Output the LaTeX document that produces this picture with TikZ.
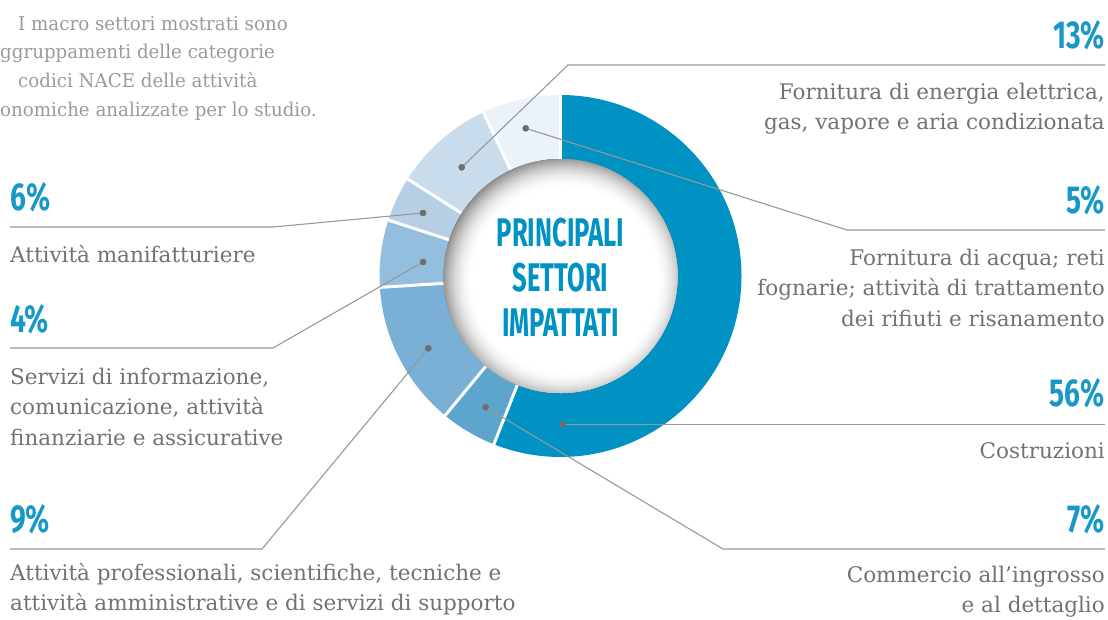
\documentclass[tikz,border=0pt]{standalone}
\usepackage{fontspec}
\newfontfamily\pctfont{Fira Sans}[FakeStretch=0.72]
\newfontfamily\ttlfont{Fira Sans}[FakeStretch=0.64]
\newfontfamily\descfont{DejaVu Serif}
\newfontfamily\notefont{DejaVu Serif}[FakeStretch=0.96]
\definecolor{mainblue}{HTML}{0092C2}
\definecolor{pctblue}{HTML}{1798C8}
\definecolor{sfive}{HTML}{5CA6CE}
\definecolor{sthirteen}{HTML}{7AB0D5}
\definecolor{ssix}{HTML}{94BEDD}
\definecolor{sfour}{HTML}{B6CFE5}
\definecolor{snine}{HTML}{C9DCEC}
\definecolor{sseven}{HTML}{EBF2F9}
\definecolor{txtgray}{HTML}{727272}
\definecolor{notegray}{HTML}{9A9A9A}
\definecolor{linegray}{HTML}{989898}
\definecolor{dotgray}{HTML}{6E6E6E}
\begin{document}
\begin{tikzpicture}[x=1pt,y=-1pt,
  dot/.style={circle,fill=dotgray,inner sep=0pt,minimum size=6.4pt},
  leader/.style={draw=linegray,line width=1.1pt},
  pct/.style={font={\pctfont\bfseries\fontsize{39}{39}\selectfont},text=pctblue,inner sep=0pt},
  desc/.style={font={\descfont\fontsize{21.5}{30.5}\selectfont},text=txtgray,inner sep=0pt},
  note/.style={font={\notefont\fontsize{19}{29}\selectfont},text=notegray,inner sep=0pt,anchor=base west},
  sep/.style={white,line width=3pt}
]
\useasboundingbox (0,0) rectangle (1108,619);
\clip (0,0) rectangle (1108,619);
\coordinate (C) at (560.5,276);
\coordinate (S) at (565,280);
% donut segments (angles: visual clockwise, 0 = right)
\fill[mainblue]  (C) -- ++(-90:181)  arc[start angle=-90,  end angle=111.6, radius=181] -- cycle;
\fill[sfive]     (C) -- ++(111.6:181) arc[start angle=111.6, end angle=129.6, radius=181] -- cycle;
\fill[sthirteen] (C) -- ++(129.6:181) arc[start angle=129.6, end angle=176.4, radius=181] -- cycle;
\fill[ssix]      (C) -- ++(176.4:181) arc[start angle=176.4, end angle=198,   radius=181] -- cycle;
\fill[sfour]     (C) -- ++(198:181)   arc[start angle=198,   end angle=212.4, radius=181] -- cycle;
\fill[snine]     (C) -- ++(212.4:181) arc[start angle=212.4, end angle=244.8, radius=181] -- cycle;
\fill[sseven]    (C) -- ++(244.8:181) arc[start angle=244.8, end angle=270,   radius=181] -- cycle;
\foreach \a in {-90,111.6,129.6,176.4,198,212.4,244.8}
  \draw[sep] (C) -- ++(\a:184);
% inner white disc with inset shadow
\begin{scope}
  \clip (C) circle[radius=117];
  \fill[black!48] (C) circle[radius=130];
  \foreach \i in {0,...,32}{
    \pgfmathsetmacro\g{48*(1-\i/32)^2}
    \fill[black!\g] (S) circle[radius=124-\i];
  }
\end{scope}
% centre title
\node[font={\ttlfont\bfseries\fontsize{40}{45}\selectfont},text=mainblue,inner sep=0pt,anchor=base] (title) at (560.5,246)
  {\begin{tabular}[t]{@{}c@{}}PRINCIPALI\\SETTORI\\IMPATTATI\end{tabular}};
% note (as visible in the picture)
\node[note] (n1) at (18,30)  {I macro settori mostrati sono};
\node[note] (n2) at (0,58)   {ggruppamenti delle categorie};
\node[note] (n3) at (18,87)  {codici NACE delle attività};
\node[note] (n4) at (0,116)  {onomiche analizzate per lo studio.};
% dots
\node[dot] (d13) at (461.7,167.3) {};
\node[dot] (d5)  at (525.7,128.3) {};
\node[dot] (d56) at (562.7,424.3) {};
\node[dot] (d7)  at (485.7,407.3) {};
\node[dot] (d6)  at (423,213) {};
\node[dot] (d4)  at (423,262) {};
\node[dot] (d9)  at (428.3,348.3) {};
% elbows and ends
\coordinate (e13) at (568,65);   \coordinate (f13) at (1105,65);
\coordinate (e5)  at (847,230);  \coordinate (f5)  at (1105,230);
\coordinate (f56) at (1105,424.3);
\coordinate (e7)  at (723,549);  \coordinate (f7)  at (1105,549);
\coordinate (e6)  at (273,227);  \coordinate (f6)  at (10,227);
\coordinate (e4)  at (273,348);  \coordinate (f4)  at (10,348);
\coordinate (e9)  at (262,549);  \coordinate (f9)  at (10,549);
\draw[leader] (d13.center) -- (e13) -- (f13);
\draw[leader] (d5.center) -- (e5) -- (f5);
\draw[leader] (d56.center) -- (f56);
\draw[leader] (d7.center) -- (e7) -- (f7);
\draw[leader] (d6.center) -- (e6) -- (f6);
\draw[leader] (d4.center) -- (e4) -- (f4);
\draw[leader] (d9.center) -- (e9) -- (f9);
\foreach \n in {d13,d5,d56,d7,d6,d4,d9} \fill[dotgray] (\n) circle[radius=3.2];
% percentages
\node[pct,anchor=base east] (p13) at (1105,48)  {13\%};
\node[pct,anchor=base east] (p5)  at (1105,213) {5\%};
\node[pct,anchor=base east] (p56) at (1105,406) {56\%};
\node[pct,anchor=base east] (p7)  at (1105,532) {7\%};
\node[pct,anchor=base west] (p6)  at (10,210)   {6\%};
\node[pct,anchor=base west] (p4)  at (10,332)   {4\%};
\node[pct,anchor=base west] (p9)  at (10,532)   {9\%};
% descriptions
\node[desc,anchor=base east] (t13) at (1105,99)
  {\begin{tabular}[t]{@{}r@{}}Fornitura di energia elettrica,\\gas, vapore e aria condizionata\end{tabular}};
\node[desc,anchor=base east] (t5) at (1105,265)
  {\begin{tabular}[t]{@{}r@{}}Fornitura di acqua; reti\\fognarie; attività di trattamento\\dei rifiuti e risanamento\end{tabular}};
\node[desc,anchor=base east] (t56) at (1105,458) {Costruzioni};
\node[desc,anchor=base east] (t7) at (1105,582)
  {\begin{tabular}[t]{@{}r@{}}Commercio all’ingrosso\\e al dettaglio\end{tabular}};
\node[desc,anchor=base west] (t6) at (10,262) {Attività manifatturiere};
\node[desc,anchor=base west] (t4) at (10,384)
  {\begin{tabular}[t]{@{}l@{}}Servizi di informazione,\\comunicazione, attività\\finanziarie e assicurative\end{tabular}};
\node[desc,anchor=base west] (t9) at (10,580)
  {\begin{tabular}[t]{@{}l@{}}Attività professionali, scientifiche, tecniche e\\attività amministrative e di servizi di supporto\end{tabular}};
\end{tikzpicture}
\end{document}
